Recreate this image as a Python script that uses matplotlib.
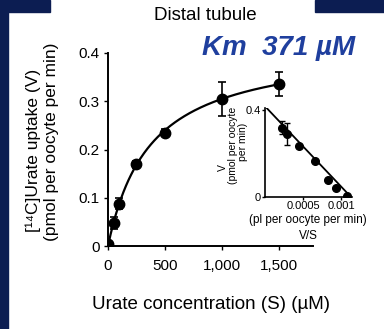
import matplotlib.pyplot as plt
import numpy as np

# ---- data ----
conc = [0, 50, 100, 250, 500, 1000, 1500]                  # urate (uM)
uptake = [0.005, 0.048, 0.088, 0.169, 0.235, 0.304, 0.335]  # pmol/oocyte/min
uptake_err = [0.006, 0.012, 0.012, 0.008, 0.008, 0.035, 0.025]

# Eadie-Hofstee inset
vs = [0.00022, 0.00029, 0.00045, 0.00066, 0.00083, 0.00093, 0.00108]
v_inset = [0.32, 0.29, 0.235, 0.165, 0.08, 0.04, 0.005]
v_inset_err = [0.03, 0.05, 0.0, 0.0, 0.0, 0.0, 0.0]

km = 371       # uM, from the label
vmax = 0.418   # pmol/oocyte/min

navy = '#0c1d52'
blue = '#1f3f9e'
sans = ['Liberation Sans', 'DejaVu Sans']

W, H = 384, 329
fig = plt.figure(figsize=(W / 100, H / 100), dpi=100)
fig.patch.set_facecolor('white')

def px(x, y):
    return x / W, 1 - y / H

# dark frame pieces
fig.patches.append(plt.Rectangle(px(0, 329), 8 / W, 1, transform=fig.transFigure, color=navy, zorder=0))
fig.patches.append(plt.Rectangle(px(0, 12), 50 / W, 12 / H, transform=fig.transFigure, color=navy, zorder=0))
fig.patches.append(plt.Rectangle(px(315, 12), 69 / W, 12 / H, transform=fig.transFigure, color=navy, zorder=0))

# ---- main axes ----
ax = fig.add_axes([108 / W, 1 - 246 / H, 205 / W, 193 / H])
ax.set_facecolor('none')
s_fit = np.linspace(0, 1500, 200)
ax.plot(s_fit, vmax * s_fit / (km + s_fit), color='black', lw=1.6, zorder=2)
ax.errorbar(conc, uptake, yerr=uptake_err, fmt='o', color='black', ms=7.5,
            capsize=3, elinewidth=1.2, capthick=1.2, zorder=3)
ax.set_xlim(0, 1800)
ax.set_ylim(0, 0.4)
ax.set_xticks([0, 500, 1000, 1500])
ax.set_xticklabels(['0', '500', '1,000', '1,500'], family=sans, fontsize=11)
ax.set_yticks([0, 0.1, 0.2, 0.3, 0.4])
ax.set_yticklabels(['0', '0.1', '0.2', '0.3', '0.4'], family=sans, fontsize=11)
ax.tick_params(axis='y', length=3, width=1, pad=3)
ax.tick_params(axis='x', length=3, width=1, pad=6)
for side in ['top', 'right']:
    ax.spines[side].set_visible(False)
for side in ['left', 'bottom']:
    ax.spines[side].set_linewidth(1.4)
ax.set_xlabel('Urate concentration (S) (\u00b5M)', family=sans, fontsize=13.5, labelpad=17)

fig.text(*px(33, 150), '[\u00b9\u2074C]Urate uptake (V)', rotation=90, ha='center', va='center',
         family=sans, fontsize=12.5)
fig.text(*px(52, 142), '(pmol per oocyte per min)', rotation=90, ha='center', va='center',
         family=sans, fontsize=12.5)

fig.text(*px(205, 15), 'Distal tubule', ha='center', va='center', family=sans, fontsize=13.5)
fig.text(*px(202, 48), 'Km  371 \u00b5M', ha='left', va='center', color=blue,
         fontsize=20, fontweight='bold', fontstyle='italic', family=sans)

# ---- inset ----
ins = fig.add_axes([265 / W, 1 - 197 / H, 87 / W, 89 / H])
ins.set_facecolor('none')
ins.plot([0, vmax / km], [vmax, 0], color='black', lw=1.3, zorder=2)
ins.errorbar(vs, v_inset, yerr=v_inset_err, fmt='o', color='black', ms=5.5,
             capsize=2, elinewidth=1, zorder=3)
ins.set_xlim(0, 0.00114)
ins.set_ylim(0, 0.41)
ins.set_xticks([0.0005, 0.001])
ins.set_xticklabels(['0.0005', '0.001'], family=sans, fontsize=8)
ins.set_yticks([0, 0.4])
ins.set_yticklabels(['0', '0.4'], family=sans, fontsize=8)
ins.tick_params(length=2, width=1, pad=1)
for side in ['top', 'right']:
    ins.spines[side].set_visible(False)
for side in ['left', 'bottom']:
    ins.spines[side].set_linewidth(1.2)

fig.text(*px(223, 168), 'V', rotation=90, ha='center', va='center', family=sans, fontsize=7.5)
fig.text(*px(233, 145), '(pmol per oocyte', rotation=90, ha='center', va='center', family=sans, fontsize=7.5)
fig.text(*px(243, 142), 'per min)', rotation=90, ha='center', va='center', family=sans, fontsize=7.5)
fig.text(*px(308, 220), '(pl per oocyte per min)', ha='center', va='center', family=sans, fontsize=8.5)
fig.text(*px(308, 236), 'V/S', ha='center', va='center', family=sans, fontsize=8.5)

fig.savefig('out.png', dpi=100)
